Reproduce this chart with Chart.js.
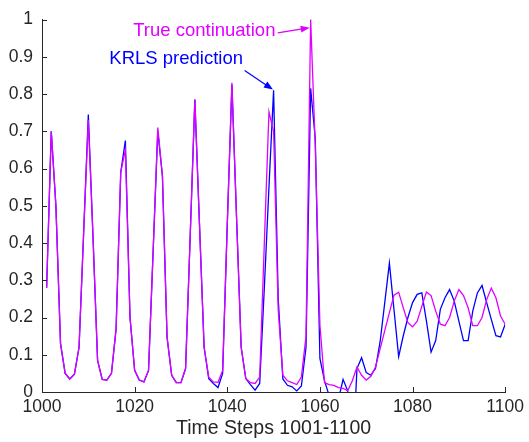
<!DOCTYPE html>
<html>
<head>
<meta charset="utf-8">
<script src="https://cdn.jsdelivr.net/npm/chart.js@4.4.0/dist/chart.umd.min.js"></script>
<style>
  html, body { margin: 0; padding: 0; background: #fff; }
  #wrap { width: 529px; height: 442px; }
</style>
</head>
<body>
<div id="wrap"><canvas id="chart"></canvas></div>
<script>
// time steps 1001..1100
const timeSteps = [
  1001, 1002, 1003, 1004, 1005, 1006, 1007, 1008, 1009, 1010, 1011, 1012, 1013, 1014, 1015, 1016, 1017, 1018, 1019, 1020,
  1021, 1022, 1023, 1024, 1025, 1026, 1027, 1028, 1029, 1030, 1031, 1032, 1033, 1034, 1035, 1036, 1037, 1038, 1039, 1040,
  1041, 1042, 1043, 1044, 1045, 1046, 1047, 1048, 1049, 1050, 1051, 1052, 1053, 1054, 1055, 1056, 1057, 1058, 1059, 1060,
  1061, 1062, 1063, 1064, 1065, 1066, 1067, 1068, 1069, 1070, 1071, 1072, 1073, 1074, 1075, 1076, 1077, 1078, 1079, 1080,
  1081, 1082, 1083, 1084, 1085, 1086, 1087, 1088, 1089, 1090, 1091, 1092, 1093, 1094, 1095, 1096, 1097, 1098, 1099, 1100
];

// true continuation of the laser series
const trueValues = [
  0.28, 0.70, 0.50, 0.13, 0.05, 0.035, 0.048, 0.12, 0.43, 0.73,
  0.42, 0.085, 0.034, 0.032, 0.05, 0.17, 0.59, 0.65, 0.20, 0.058,
  0.032, 0.027, 0.058, 0.38, 0.71, 0.58, 0.147, 0.045, 0.025, 0.025,
  0.063, 0.42, 0.785, 0.45, 0.12, 0.04, 0.027, 0.026, 0.058, 0.45,
  0.83, 0.47, 0.12, 0.036, 0.025, 0.023, 0.04, 0.40, 0.752, 0.70,
  0.22, 0.045, 0.03, 0.025, 0.02, 0.04, 0.15, 1.0, 0.66, 0.18,
  0.025, 0.02, 0.018, 0.012, 0.01, 0.003, 0.03, 0.067, 0.045, 0.032,
  0.042, 0.067, 0.116, 0.165, 0.213, 0.26, 0.268, 0.226, 0.186, 0.175,
  0.19, 0.23, 0.268, 0.259, 0.217, 0.182, 0.178, 0.2, 0.244, 0.275,
  0.259, 0.226, 0.178, 0.178, 0.2, 0.248, 0.279, 0.253, 0.204, 0.182
];

// KRLS prediction
const krlsValues = [
  0.28, 0.70, 0.50, 0.13, 0.05, 0.035, 0.048, 0.12, 0.43, 0.745,
  0.42, 0.085, 0.034, 0.032, 0.05, 0.17, 0.59, 0.675, 0.20, 0.058,
  0.032, 0.027, 0.058, 0.38, 0.70, 0.58, 0.147, 0.045, 0.025, 0.025,
  0.063, 0.42, 0.785, 0.45, 0.12, 0.036, 0.023, 0.012, 0.05, 0.45,
  0.825, 0.47, 0.12, 0.036, 0.02, 0.005, 0.023, 0.28, 0.55, 0.81,
  0.25, 0.035, 0.018, 0.014, 0.003, 0.016, 0.12, 0.815, 0.68, 0.09,
  0.03, -0.01, -0.04, -0.02, 0.034, 0.003, -0.2, 0.063, 0.092, 0.052,
  0.045, 0.063, 0.135, 0.24, 0.346, 0.22, 0.095, 0.151, 0.2, 0.24,
  0.262, 0.266, 0.19, 0.107, 0.138, 0.222, 0.253, 0.275, 0.244, 0.19,
  0.138, 0.138, 0.217, 0.266, 0.286, 0.24, 0.195, 0.151, 0.148, 0.182
];

const xTicks = [1000, 1020, 1040, 1060, 1080, 1100];
const yTicks = [0, 0.1, 0.2, 0.3, 0.4, 0.5, 0.6, 0.7, 0.8, 0.9, 1];

const axisColor = '#262626';
const magenta = '#e000ff';
const blue = '#0000ff';
const fontFamily = '"Liberation Sans", Arial, Helvetica, sans-serif';

// text labels with arrows (in data units)
const notes = [
  { text: 'True continuation', color: magenta, at: [1050.4, 0.969], from: [1050.9, 0.964], to: [1057.8, 0.978] },
  { text: 'KRLS prediction', color: blue, at: [1043.4, 0.894], from: [1043.75, 0.863], to: [1049.85, 0.812] }
];

const decorations = {
  id: 'decorations',
  afterDraw(chart) {
    const { ctx, chartArea } = chart;
    const x = chart.scales.x, y = chart.scales.y;
    ctx.save();
    // inward ticks, matlab style
    ctx.strokeStyle = axisColor;
    ctx.lineWidth = 1;
    ctx.beginPath();
    yTicks.forEach(v => {
      const py = Math.round(y.getPixelForValue(v)) + 0.5;
      ctx.moveTo(chartArea.left, py);
      ctx.lineTo(chartArea.left + 5, py);
    });
    xTicks.forEach(v => {
      const px = Math.round(x.getPixelForValue(v)) + 0.5;
      ctx.moveTo(px, chartArea.bottom);
      ctx.lineTo(px, chartArea.bottom - 5);
    });
    ctx.stroke();

    ctx.font = '18.5px ' + fontFamily;
    ctx.textAlign = 'right';
    ctx.textBaseline = 'middle';
    notes.forEach(n => {
      ctx.fillStyle = n.color;
      ctx.strokeStyle = n.color;
      ctx.fillText(n.text, x.getPixelForValue(n.at[0]), y.getPixelForValue(n.at[1]));
      const x0 = x.getPixelForValue(n.from[0]), y0 = y.getPixelForValue(n.from[1]);
      const x1 = x.getPixelForValue(n.to[0]), y1 = y.getPixelForValue(n.to[1]);
      const ang = Math.atan2(y1 - y0, x1 - x0);
      ctx.lineWidth = 1.2;
      ctx.beginPath();
      ctx.moveTo(x0, y0);
      ctx.lineTo(x1 - 6 * Math.cos(ang), y1 - 6 * Math.sin(ang));
      ctx.stroke();
      ctx.beginPath();
      ctx.moveTo(x1, y1);
      ctx.lineTo(x1 - 9 * Math.cos(ang) + 3.5 * Math.sin(ang), y1 - 9 * Math.sin(ang) - 3.5 * Math.cos(ang));
      ctx.lineTo(x1 - 9 * Math.cos(ang) - 3.5 * Math.sin(ang), y1 - 9 * Math.sin(ang) + 3.5 * Math.cos(ang));
      ctx.closePath();
      ctx.fill();
    });
    ctx.restore();
  }
};

const ctx = document.getElementById('chart').getContext('2d');
const myChart = new Chart(ctx, {
  type: 'line',
  data: {
    datasets: [
      {
        label: 'True continuation',
        data: timeSteps.map((t, i) => ({ x: t, y: trueValues[i] })),
        borderColor: magenta,
        borderWidth: 1.3,
        pointRadius: 0,
        tension: 0,
        clip: { left: 0, right: 0, top: 2, bottom: 0 }
      },
      {
        label: 'KRLS prediction',
        data: timeSteps.map((t, i) => ({ x: t, y: krlsValues[i] })),
        borderColor: blue,
        borderWidth: 1.3,
        pointRadius: 0,
        tension: 0,
        clip: { left: 0, right: 0, top: 2, bottom: 0 }
      }
    ]
  },
  options: {
    responsive: true,
    maintainAspectRatio: false,
    animation: false,
    layout: { padding: { top: 15, right: 23, left: 0, bottom: 0 } },
    plugins: {
      legend: { display: false },
      tooltip: { enabled: false }
    },
    scales: {
      x: {
        type: 'linear',
        min: 1000,
        max: 1100,
        afterBuildTicks: (scale) => { scale.ticks = xTicks.map(v => ({ value: v })); },
        afterFit: (scale) => { scale.height = 50; },
        grid: { display: false, drawTicks: false },
        border: { display: true, color: axisColor, width: 1 },
        ticks: {
          color: axisColor,
          padding: 5,
          maxRotation: 0,
          font: { family: fontFamily, size: 17.5 },
          callback: (v) => String(v)
        },
        title: {
          display: true,
          text: 'Time Steps 1001-1100',
          color: axisColor,
          font: { family: fontFamily, size: 19.5 },
          padding: { top: 0, bottom: 2 }
        }
      },
      y: {
        min: 0,
        max: 1,
        afterBuildTicks: (scale) => { scale.ticks = yTicks.map(v => ({ value: v })); },
        afterFit: (scale) => { scale.width = 42; },
        grid: { display: false, drawTicks: false },
        border: { display: true, color: axisColor, width: 1 },
        ticks: {
          color: axisColor,
          padding: 9,
          font: { family: fontFamily, size: 17.5 },
          callback: (v) => String(Math.round(v * 10) / 10)
        }
      }
    }
  },
  plugins: [decorations]
});
</script>
</body>
</html>
